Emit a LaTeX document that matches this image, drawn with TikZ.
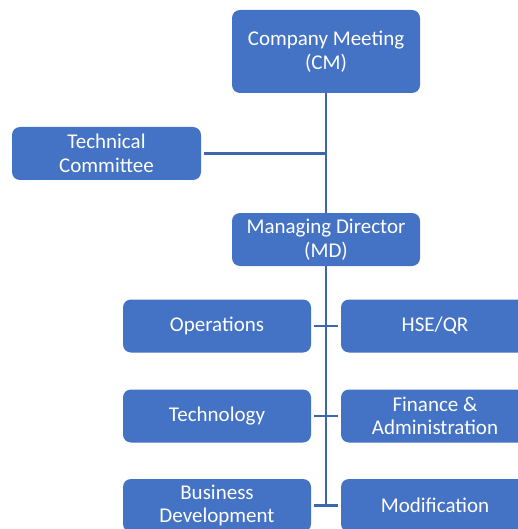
\documentclass[tikz,border=0pt]{standalone}
\usepackage{fontspec}
\setmainfont{Carlito}
\definecolor{boxblue}{HTML}{4472C4}
\definecolor{lineblue}{HTML}{3E66AE}
\begin{document}
\begin{tikzpicture}[x=1pt,y=1pt,
  orgbox/.style={rectangle, rounded corners=8pt, fill=boxblue, text=white,
    minimum width=188pt, minimum height=53pt, inner sep=0pt, align=center,
    font=\fontsize{21}{23.5}\selectfont},
  link/.style={draw=lineblue, line width=2.6pt}]
\useasboundingbox (0,0) rectangle (518,-529);
\clip (0,0) rectangle (518,-529);
\node[orgbox, minimum height=83pt] (cm) at (326,-51.5) {Company Meeting\\(CM)};
\node[orgbox, minimum width=189pt] (tc) at (106.5,-153.5) {Technical\\Committee};
\node[orgbox] (md) at (326,-239.5) {Managing Director\\(MD)};
\node[orgbox] (ops) at (217,-326) {Operations};
\node[orgbox] (hse) at (435,-326) {HSE/QR};
\node[orgbox] (tech) at (217,-416) {Technology};
\node[orgbox] (fin) at (435,-416) {Finance \&\\Administration};
\node[orgbox] (bd) at (217,-505.5) {Business\\Development};
\node[orgbox] (mod) at (435,-505.5) {Modification};
\coordinate (bottom) at (326,-506);
\draw[link] (cm.south) -- (md.north);
\draw[link, shorten <=3pt] (tc.east) -- (tc.east -| cm.south);
\draw[link] (md.south) -- (bottom);
\draw[link, shorten <=3pt, shorten >=3pt] (ops.east) -- (hse.west);
\draw[link, shorten <=3pt, shorten >=3pt] (tech.east) -- (fin.west);
\draw[link, shorten <=3pt, shorten >=3pt] (bd.east) -- (mod.west);
\end{tikzpicture}
\end{document}
